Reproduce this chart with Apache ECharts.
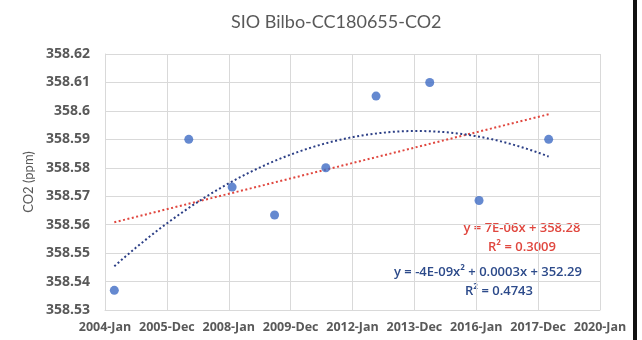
<!DOCTYPE html>
<html>
<head>
<meta charset="utf-8">
<script src="https://cdn.jsdelivr.net/npm/echarts@6/dist/echarts.min.js"></script>
<style>html,body{margin:0;padding:0;background:#fff}#c{width:642px;height:340px}</style>
</head>
<body>
<div id="c"></div>
<script>
// ---- data ----
const titleText = 'SIO Bilbo-CC180655-CO2';
const yAxisName = 'CO2 (ppm)';
const xTickLabels = ['2004-Jan','2005-Dec','2008-Jan','2009-Dec','2012-Jan','2013-Dec','2016-Jan','2017-Dec','2020-Jan'];
const sampleDates = ['2004-04-20','2006-09-16','2008-02-10','2009-06-25','2011-02-20','2012-10-05','2014-07-01','2016-02-03','2018-05-05'];
const co2Values = [358.5369, 358.5900, 358.5732, 358.5634, 358.5800, 358.6052, 358.6100, 358.5685, 358.5900];
const linearLabel = ['y = 7E-06x + 358.28', 'R² = 0.3009'];
const polyLabel = ['y = -4E-09x² + 0.0003x + 352.29', 'R² = 0.4743'];

// ---- helpers ----
const origin = Date.UTC(2004,0,1);
function toYears(s){ const p=s.split('-').map(Number); return (Date.UTC(p[0],p[1]-1,p[2])-origin)/(365.25*86400000); }
const xs = sampleDates.map(toYears);
const pts = xs.map((x,i)=>[x, co2Values[i]]);

// least squares fits (trendlines)
const n = xs.length;
const xm = xs.reduce((a,b)=>a+b,0)/n, ym = co2Values.reduce((a,b)=>a+b,0)/n;
let sxy=0,sxx=0; xs.forEach((x,i)=>{sxy+=(x-xm)*(co2Values[i]-ym); sxx+=(x-xm)*(x-xm);});
const slope = sxy/sxx;
function linF(x){ return ym + slope*(x-xm); }
function solve3(A,b){
  const M=A.map((r,i)=>r.concat([b[i]]));
  for(let i=0;i<3;i++){
    let p=i; for(let k=i+1;k<3;k++) if(Math.abs(M[k][i])>Math.abs(M[p][i])) p=k;
    [M[i],M[p]]=[M[p],M[i]];
    for(let k=i+1;k<3;k++){const f=M[k][i]/M[i][i]; for(let j=i;j<4;j++) M[k][j]-=f*M[i][j];}
  }
  const r=[0,0,0];
  for(let i=2;i>=0;i--){let s=M[i][3]; for(let j=i+1;j<3;j++) s-=M[i][j]*r[j]; r[i]=s/M[i][i];}
  return r;
}
const S=[0,0,0,0,0], T=[0,0,0];
xs.forEach((x,i)=>{const u=x-xm, v=co2Values[i]-ym; for(let k=0;k<5;k++) S[k]+=Math.pow(u,k); for(let k=0;k<3;k++) T[k]+=v*Math.pow(u,k);});
const coef = solve3([[S[0],S[1],S[2]],[S[1],S[2],S[3]],[S[2],S[3],S[4]]], T);
function quadF(x){ const u=x-xm; return ym + coef[0]+coef[1]*u+coef[2]*u*u; }
const xmin=Math.min(...xs), xmax=Math.max(...xs);
const linPts=[], quadPts=[];
for(let i=0;i<=100;i++){ const x=xmin+(xmax-xmin)*i/100; linPts.push([x,linF(x)]); quadPts.push([x,quadF(x)]); }

const FONT = 'Open Sans';
const GRAY = '#595959';
const RED = '#e0473f', NAVY = '#2c3f86';
const chart = echarts.init(document.getElementById('c'), null, {renderer:'canvas'});
chart.setOption({
  animation:false,
  backgroundColor:'#fff',
  title:{text:titleText,left:226,top:8,textStyle:{fontFamily:'Lato',fontSize:18,fontWeight:'normal',color:GRAY}},
  grid:{left:105,right:42,top:54,bottom:30},
  xAxis:{type:'value',min:0,max:16,interval:2,
    axisLine:{show:true,lineStyle:{color:'#d9d9d9'}},axisTick:{show:false},
    splitLine:{show:true,lineStyle:{color:'#d9d9d9'}},
    axisLabel:{margin:11,fontFamily:FONT,fontSize:12.5,fontWeight:'bold',color:GRAY,formatter:v=>xTickLabels[Math.round(v/2)]}},
  yAxis:{type:'value',min:358.53,max:358.62,interval:0.01,
    name:yAxisName,nameLocation:'middle',nameGap:70,nameRotate:90,
    nameTextStyle:{fontFamily:'Lato',fontSize:13,color:GRAY},
    axisLine:{show:true,lineStyle:{color:'#d9d9d9'}},axisTick:{show:false},
    splitLine:{show:true,lineStyle:{color:'#d9d9d9'}},
    axisLabel:{margin:15,fontFamily:FONT,fontSize:14,fontWeight:'bold',color:GRAY,formatter:v=>String(parseFloat(v.toFixed(2)))}},
  series:[
    {type:'line',data:linPts,showSymbol:false,smooth:false,lineStyle:{color:RED,width:2,type:[2,2.5]},z:2},
    {type:'line',data:quadPts,showSymbol:false,smooth:false,lineStyle:{color:NAVY,width:2,type:[2,2.5]},z:2},
    {type:'scatter',data:pts,symbolSize:9,itemStyle:{color:'#3e6bc4'},z:3}
  ],
  graphic:[
    {type:'text',x:522,y:228,style:{text:linearLabel[0],fill:RED,font:'600 13px "Open Sans"',textAlign:'center',textVerticalAlign:'middle'}},
    {type:'text',x:522,y:247,style:{text:linearLabel[1],fill:RED,font:'600 13px "Open Sans"',textAlign:'center',textVerticalAlign:'middle'}},
    {type:'text',x:488,y:272,style:{text:polyLabel[0],fill:'#2c4a8a',font:'600 13px "Open Sans"',textAlign:'center',textVerticalAlign:'middle'}},
    {type:'text',x:499,y:291,style:{text:polyLabel[1],fill:'#2c4a8a',font:'600 13px "Open Sans"',textAlign:'center',textVerticalAlign:'middle'}},
    {type:'rect',shape:{x:633,y:0,width:4,height:340},style:{fill:'#111'}}
  ]
});
</script>
</body>
</html>
